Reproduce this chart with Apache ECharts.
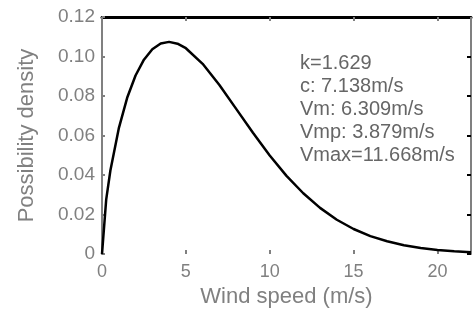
<!DOCTYPE html>
<html>
<head>
<meta charset="utf-8">
<script src="https://cdn.jsdelivr.net/npm/echarts@6/dist/echarts.min.js"></script>
<style>
  html, body { margin: 0; padding: 0; background: #fff; }
  #main { width: 473px; height: 313px; }
</style>
</head>
<body>
<div id="main"></div>
<script>
// wind speed (m/s) and density
var windSpeed = [0, 0.25, 0.5, 1, 1.5, 2, 2.5, 3, 3.5, 4, 4.5, 5, 6, 7, 8, 9, 10, 11, 12, 13, 14, 15, 16, 17, 18, 19, 20, 21, 22];
var density = [0, 0.0276, 0.0423, 0.0636, 0.0791, 0.0904, 0.0984, 0.1037, 0.1066, 0.1074, 0.1065, 0.1042, 0.0963, 0.0856, 0.0735, 0.0614, 0.0499, 0.0396, 0.0308, 0.0234, 0.0174, 0.0127, 0.0091, 0.0065, 0.0045, 0.0031, 0.0021, 0.0014, 0.0009];
var infoLines = ['k=1.629', 'c: 7.138m/s', 'Vm: 6.309m/s', 'Vmp: 3.879m/s', 'Vmax=11.668m/s'];

var pts = [];
for (var i = 0; i < windSpeed.length; i++) {
    pts.push([windSpeed[i], density[i]]);
}

var gray = '#808080';
var font = 'Liberation Sans';

var option = {
    animation: false,
    backgroundColor: '#fff',
    grid: { left: 102, top: 17, right: 2, bottom: 54, containLabel: false },
    xAxis: [{
        type: 'value', min: 0, max: 22, interval: 5,
        axisLine: { show: false, onZero: false },
        axisTick: { show: true, inside: true, length: 4, lineStyle: { color: gray, width: 2 } },
        splitLine: { show: false },
        axisLabel: { showMaxLabel: false, color: gray, fontSize: 18, fontFamily: font, margin: 9 },
        name: 'Wind speed (m/s)', nameLocation: 'middle', nameGap: 28,
        nameTextStyle: { color: gray, fontSize: 22, fontFamily: font }
    }, {
        type: 'value', min: 0, max: 22, interval: 5, position: 'top',
        axisLine: { show: true, onZero: false, lineStyle: { color: '#000', width: 3 } },
        axisTick: { show: true, inside: true, length: 4, lineStyle: { color: gray, width: 2 } },
        axisLabel: { show: false },
        splitLine: { show: false }
    }],
    yAxis: [{
        type: 'value', min: 0, max: 0.12, interval: 0.02,
        axisLine: { show: true, onZero: false, lineStyle: { color: gray, width: 2 } },
        axisTick: { show: true, inside: true, length: 3, lineStyle: { color: gray, width: 2 } },
        splitLine: { show: false },
        axisLabel: {
            color: gray, fontSize: 19, fontFamily: font, margin: 7,
            formatter: function (v) { return v === 0 ? '0' : v.toFixed(2); }
        },
        name: 'Possibility density', nameLocation: 'middle', nameGap: 64,
        nameTextStyle: { color: gray, fontSize: 22, fontFamily: font }
    }, {
        type: 'value', min: 0, max: 0.12, interval: 0.02, position: 'right',
        axisLine: { show: true, onZero: false, lineStyle: { color: gray, width: 2 } },
        axisTick: { show: true, inside: true, length: 4, lineStyle: { color: '#000', width: 2 } },
        axisLabel: { show: false },
        splitLine: { show: false }
    }],
    graphic: [{
        type: 'text', left: 300, top: 52,
        style: {
            text: infoLines.join('\n'),
            fill: '#666', fontSize: 20, fontFamily: font, lineHeight: 23
        }
    }],
    series: [{
        type: 'line',
        data: pts,
        showSymbol: false,
        smooth: false,
        lineStyle: { color: '#000', width: 2.5 },
        xAxisIndex: 0, yAxisIndex: 0
    }]
};

var myChart = echarts.init(document.getElementById('main'));
myChart.setOption(option);
</script>
</body>
</html>
